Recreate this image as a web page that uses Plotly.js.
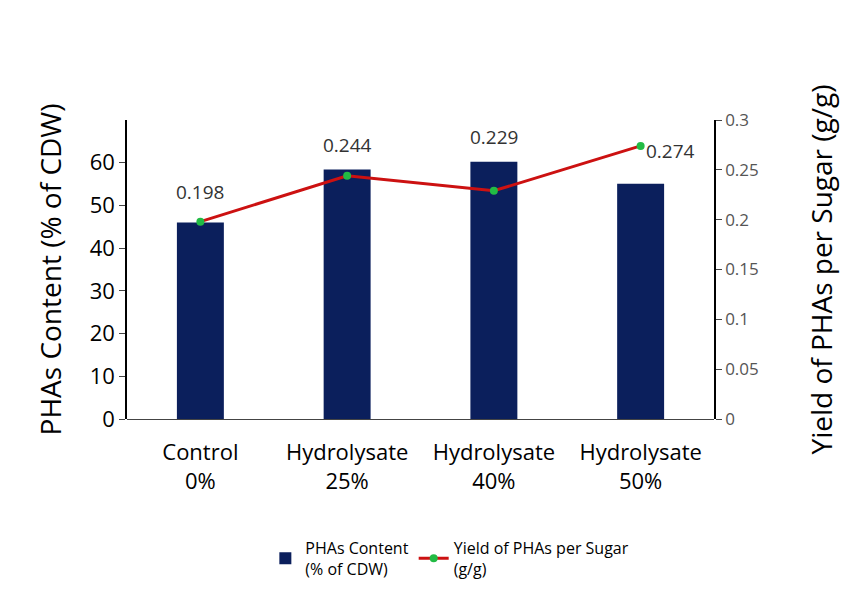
<!DOCTYPE html>
<html>
<head>
<meta charset="utf-8">
<script src="https://cdn.plot.ly/plotly-3.0.1.min.js"></script>
</head>
<body style="margin:0">
<div id="chart" style="width:866px;height:597px"></div>
<script>
// values
var categories = ['Control<br>0%', 'Hydrolysate<br>25%', 'Hydrolysate<br>40%', 'Hydrolysate<br>50%'];
var phaContent = [46, 58.4, 60.2, 55.1];
var yieldPerSugar = [0.198, 0.244, 0.229, 0.274];
var yieldLabels = ['0.198', '0.244', '0.229', '0.274'];

var bars = {
    x: categories,
    y: phaContent,
    name: 'PHAs Content<br>(% of CDW)',
    type: 'bar',
    width: 0.32,
    marker: {color: '#0b1f5c'}
};
var line = {
    x: categories,
    y: yieldPerSugar,
    name: 'Yield of PHAs per Sugar<br>(g/g)',
    type: 'scatter',
    mode: 'lines+markers',
    yaxis: 'y2',
    line: {color: '#cc1111', width: 3},
    marker: {color: '#22bb44', size: 8}
};

// labels sit above the bars, last one to the right of its point
var labelOffsets = [[0, 30], [0, 31], [0, 54], [30, -5]];
var annotations = yieldPerSugar.map((v, i) => ({
    x: categories[i], y: v, yref: 'y2', text: yieldLabels[i],
    showarrow: false, xshift: labelOffsets[i][0], yshift: labelOffsets[i][1],
    font: {size: 19, color: '#333'}
}));

var layout = {
    margin: {l: 127, r: 152, t: 120, b: 177},
    font: {family: 'Open Sans, sans-serif', color: '#000'},
    showlegend: true,
    legend: {orientation: 'h', x: 0.55, xanchor: 'center', y: -0.37, yanchor: 'top',
        font: {size: 16}},
    xaxis: {tickfont: {size: 22}, showline: false, ticks: '', ticklabelstandoff: 18},
    yaxis: {
        range: [0, 70], tickvals: [0, 10, 20, 30, 40, 50, 60],
        tickfont: {size: 22}, showline: true, linecolor: '#000', linewidth: 1.5,
        ticks: 'outside', ticklen: 6, showgrid: false,
        title: {text: 'PHAs Content (% of CDW)', font: {size: 28}, standoff: 20}
    },
    yaxis2: {
        overlaying: 'y', side: 'right', range: [0, 0.3],
        tickvals: [0, 0.05, 0.1, 0.15, 0.2, 0.25, 0.3],
        ticktext: ['0', '0.05', '0.1', '0.15', '0.2', '0.25', '0.3'],
        tickfont: {size: 17, color: '#555'}, showline: true, linecolor: '#000', linewidth: 1.5,
        ticks: 'outside', ticklen: 6, showgrid: false,
        title: {text: 'Yield of PHAs per Sugar (g/g)', font: {size: 28}, standoff: 55}
    },
    annotations: annotations
};

Plotly.newPlot('chart', [bars, line], layout, {displayModeBar: false});
</script>
</body>
</html>
